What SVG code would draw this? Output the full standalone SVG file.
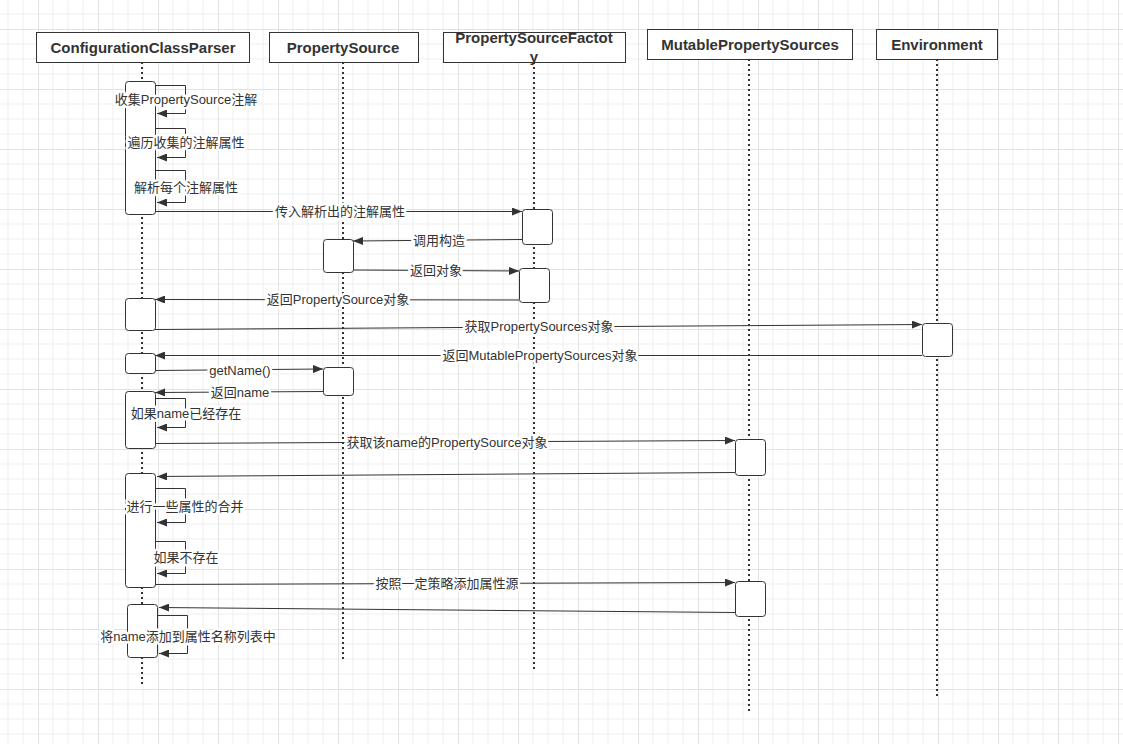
<svg xmlns="http://www.w3.org/2000/svg" width="1123" height="744" viewBox="0 0 1123 744">
<defs>
<pattern id="grid" x="38" y="29" width="60" height="60" patternUnits="userSpaceOnUse">
<path d="M15 0V60M30 0V60M45 0V60M0 15H60M0 30H60M0 45H60" stroke="#efefef" stroke-width="1" fill="none"/>
<path d="M0.5 0V60M0 0.5H60" stroke="#e2e2e2" stroke-width="1" fill="none"/>
</pattern>
<marker id="arr" viewBox="0 0 10 8" refX="10" refY="4" markerWidth="10" markerHeight="8" markerUnits="userSpaceOnUse" orient="auto">
<path d="M0 0L10 4L0 8Z" fill="#333"/>
</marker>
<style>
.hdr rect{fill:#fff;stroke:#333;stroke-width:1}
.hdr text{font-family:"Liberation Sans","Noto Sans CJK SC",sans-serif;font-weight:bold;font-size:15px;fill:#333;text-anchor:middle}
.life{stroke:#333;stroke-width:2;stroke-dasharray:2 3;fill:none}
.act{fill:#fff;stroke:#333;stroke-width:1}
.msg{stroke:#333;stroke-width:1;fill:none;marker-end:url(#arr)}
.lbl{font-family:"Liberation Sans","Noto Sans CJK SC",sans-serif;font-size:13px;fill:#333;text-anchor:middle;stroke:#fff;stroke-width:5px;paint-order:stroke;stroke-linejoin:round}
</style>
</defs>
<rect width="1123" height="744" fill="#fff"/>
<rect width="1123" height="744" fill="url(#grid)"/>

<g id="lifelines">
<line class="life" x1="142" y1="62" x2="142" y2="686"/>
<line class="life" x1="343" y1="62" x2="343" y2="660"/>
<line class="life" x1="534" y1="62" x2="534" y2="670"/>
<line class="life" x1="749" y1="59" x2="749" y2="712"/>
<line class="life" x1="937" y1="59" x2="937" y2="697"/>
</g>

<g id="node-ccp" class="hdr"><rect x="36.5" y="32.5" width="213" height="30"/><text x="143" y="53">ConfigurationClassParser</text></g>
<g id="node-ps" class="hdr"><rect x="269.5" y="32.5" width="149" height="30"/><text x="343" y="53">PropertySource</text></g>
<g id="node-psf" class="hdr"><rect x="443.5" y="32.5" width="182" height="30"/><text x="534" y="43">PropertySourceFactot</text><text x="534" y="62">y</text></g>
<g id="node-mps" class="hdr"><rect x="647.5" y="29.5" width="205" height="30"/><text x="750" y="50">MutablePropertySources</text></g>
<g id="node-env" class="hdr"><rect x="876.5" y="29.5" width="121" height="30"/><text x="937" y="50">Environment</text></g>

<g id="activations">
<rect class="act" x="125.5" y="81.5" width="30" height="133" rx="3"/>
<rect class="act" x="522.5" y="209.5" width="30" height="35" rx="3"/>
<rect class="act" x="323.5" y="239.5" width="30" height="33" rx="3"/>
<rect class="act" x="519.5" y="268.5" width="30" height="34" rx="3"/>
<rect class="act" x="125.5" y="298.5" width="30" height="32" rx="3"/>
<rect class="act" x="922.5" y="323.5" width="30" height="33" rx="3"/>
<rect class="act" x="125.5" y="353.5" width="30" height="20" rx="3"/>
<rect class="act" x="323.5" y="367.5" width="30" height="28" rx="3"/>
<rect class="act" x="125.5" y="391.5" width="30" height="57" rx="3"/>
<rect class="act" x="735.5" y="439.5" width="30" height="36" rx="3"/>
<rect class="act" x="125.5" y="473.5" width="30" height="114" rx="3"/>
<rect class="act" x="735.5" y="581.5" width="30" height="35" rx="3"/>
<rect class="act" x="127.5" y="604.5" width="30" height="53" rx="3"/>
</g>

<g id="connectors">
<path class="msg" d="M155 85.5H185.5V113.5H157"/>
<path class="msg" d="M155 128.5H185.5V157.5H157"/>
<path class="msg" d="M155 170.5H185.5V202.5H157"/>
<path class="msg" d="M155 211.5L522 211.5"/>
<path class="msg" d="M522 239.5L353 241"/>
<path class="msg" d="M353 270L519 271"/>
<path class="msg" d="M519 300L155 299.5"/>
<path class="msg" d="M155 329.5L922 324.5"/>
<path class="msg" d="M922 355.5L155 355.5"/>
<path class="msg" d="M155 370.5L323 369"/>
<path class="msg" d="M323 391.5L155 392.5"/>
<path class="msg" d="M155 398.5H185.5V427.5H157"/>
<path class="msg" d="M155 443.5L735 440.5"/>
<path class="msg" d="M735 472.5L157 476.5"/>
<path class="msg" d="M155 488.5H185.5V522.5H157"/>
<path class="msg" d="M155 541.5H185.5V573.5H157"/>
<path class="msg" d="M155 584.5L735 582.5"/>
<path class="msg" d="M735 612.5L159 607.5"/>
<path class="msg" d="M157 615.5H187.5V653.5H159"/>
</g>

<g id="labels">
<text class="lbl" x="186" y="104">收集PropertySource注解</text>
<text class="lbl" x="186" y="147">遍历收集的注解属性</text>
<text class="lbl" x="186" y="192">解析每个注解属性</text>
<text class="lbl" x="340" y="216">传入解析出的注解属性</text>
<text class="lbl" x="439" y="245">调用构造</text>
<text class="lbl" x="436" y="275">返回对象</text>
<text class="lbl" x="338" y="304">返回PropertySource对象</text>
<text class="lbl" x="539" y="331">获取PropertySources对象</text>
<text class="lbl" x="540" y="360">返回MutablePropertySources对象</text>
<text class="lbl" x="240" y="375">getName()</text>
<text class="lbl" x="240" y="397">返回name</text>
<text class="lbl" x="186" y="418">如果name已经存在</text>
<text class="lbl" x="447" y="447">获取该name的PropertySource对象</text>
<text class="lbl" x="185" y="511">进行一些属性的合并</text>
<text class="lbl" x="186" y="562">如果不存在</text>
<text class="lbl" x="447" y="588">按照一定策略添加属性源</text>
<text class="lbl" x="188" y="641">将name添加到属性名称列表中</text>
</g>
</svg>
